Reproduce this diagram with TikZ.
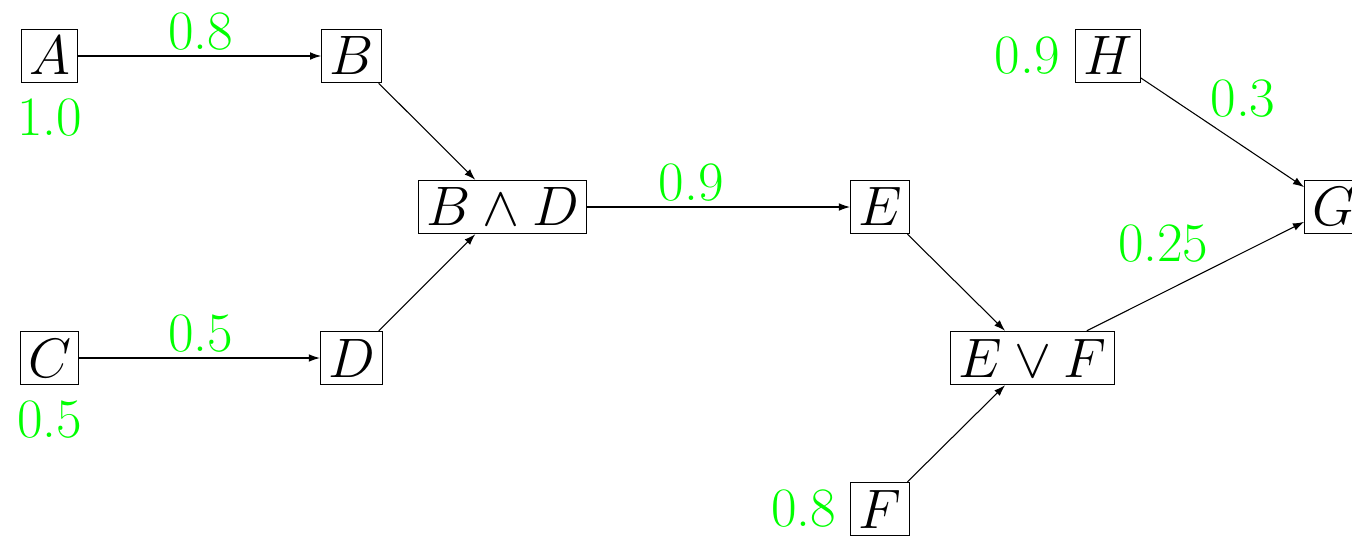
\documentclass[tikz,border=0pt]{standalone}
\usetikzlibrary{arrows.meta,calc}
\usepackage{graphicx}
\definecolor{lblgreen}{RGB}{0,255,0}
\newcommand{\shrinkit}[1]{\scalebox{0.505}{#1}}
\begin{document}
\begin{tikzpicture}[
  x=1cm, y=1cm,
  box/.style={draw, line width=0.2pt, inner sep=1.45pt, font=\fontsize{20.74pt}{25pt}\selectfont},
  lbl/.style={text=lblgreen, inner sep=0pt, font=\fontsize{20.74pt}{25pt}\selectfont},
  arr/.style={line width=0.2pt, -{Latex[length=2.1pt,width=1.45pt]}}
]
\useasboundingbox (-0.3278,-3.1788) rectangle (8.6258,0.3709);
% nodes
\node[box] (A)  at (0,0)      {\shrinkit{$A$}};
\node[box] (B)  at (2,0)      {\shrinkit{$B$}};
\node[box] (BD) at (3,-1)     {\shrinkit{$B \wedge D$}};
\node[box] (C)  at (0,-2)     {\shrinkit{$C$}};
\node[box] (D)  at (2,-2)     {\shrinkit{$D$}};
\node[box] (E)  at (5.5,-1)   {\shrinkit{$E$}};
\node[box] (EF) at (6.51,-2)  {\shrinkit{$E \vee F$}};
\node[box] (F)  at (5.5,-3)   {\shrinkit{$F$}};
\node[box] (H)  at (7.01,0)   {\shrinkit{$H$}};
\node[box] (G)  at (8.505,-1) {\shrinkit{$G$}};
% connectors
\draw[arr] (A) -- (B);
\draw[arr] (C) -- (D);
\draw[arr] (B) -- (BD);
\draw[arr] (D) -- (BD);
\draw[arr] (BD) -- (E);
\draw[arr] (E) -- (EF);
\draw[arr] (F) -- (EF);
\draw[arr] (EF) -- (G);
\draw[arr] (H) -- (G);
% edge labels
\node[lbl] (lAB)  at ($(A)!0.5!(B)+(0,4.65pt)$)  {\shrinkit{0.8}};
\node[lbl] (lCD)  at ($(C)!0.5!(D)+(0,4.65pt)$)  {\shrinkit{0.5}};
\node[lbl] (lBDE) at ($(BD)!0.5!(E)+(0,4.65pt)$) {\shrinkit{0.9}};
\node[lbl] (lHG)  at ($(H)!0.5!(G)+(4.16pt,6.27pt)$) {\shrinkit{0.3}};
\node[lbl] (lEFG) at ($(EF)!0.5!(G)+(-3.75pt,7.3pt)$) {\shrinkit{0.25}};
% node labels
\node[lbl, anchor=north] (pA) at ([yshift=-2.64pt]A.south) {\shrinkit{1.0}};
\node[lbl, anchor=north] (pC) at ([yshift=-2.64pt]C.south) {\shrinkit{0.5}};
\node[lbl, anchor=east]  (pH) at ([xshift=-2.7pt]H.west)  {\shrinkit{0.9}};
\node[lbl, anchor=east]  (pF) at ([xshift=-2.5pt]F.west)  {\shrinkit{0.8}};
\end{tikzpicture}
\end{document}
